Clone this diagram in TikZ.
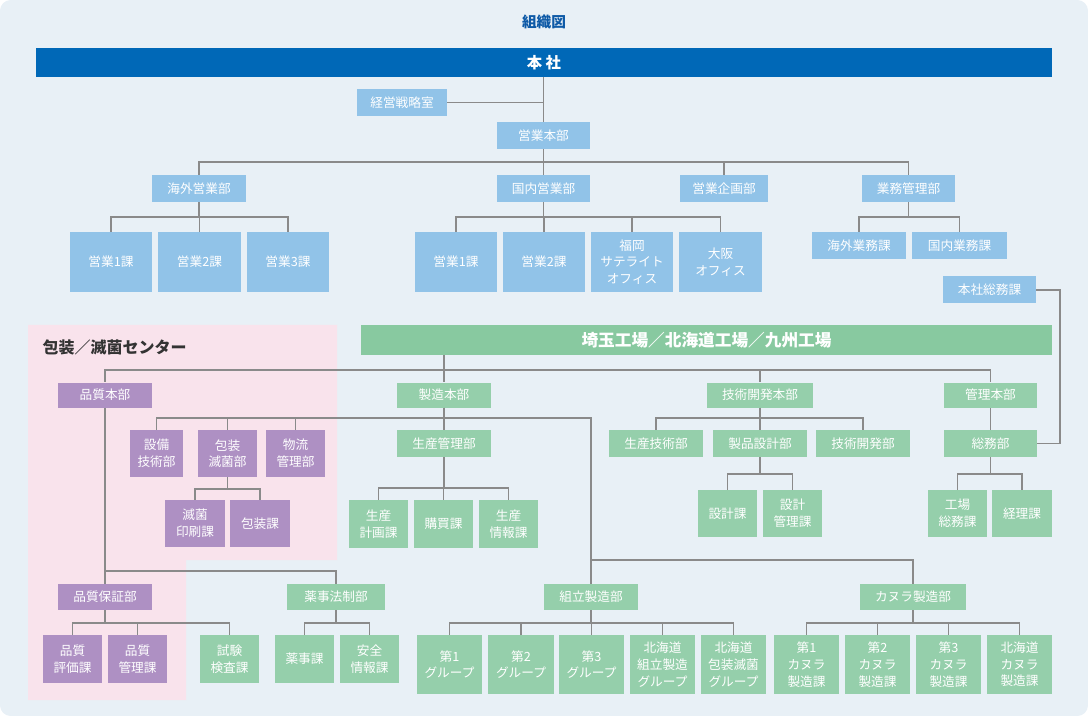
\documentclass[tikz,border=0pt]{standalone}
\usepackage{fontspec}
\setmainfont{Noto Sans CJK JP}
\definecolor{bg}{HTML}{E8F0F6}
\definecolor{pinkbg}{HTML}{F9E3EC}
\definecolor{bl}{HTML}{91C3E8}
\definecolor{gr}{HTML}{95CFAB}
\definecolor{gbar}{HTML}{88C9A0}
\definecolor{pu}{HTML}{AE90C3}
\definecolor{navy}{HTML}{0068B7}
\definecolor{ttl}{HTML}{0E5AA7}
\definecolor{ln}{HTML}{8A8A8A}
\newcommand\bx[7]{\node[#6, minimum width=#4*0.75pt, minimum height=#5*0.75pt] (#1) at (#2,#3) {#7};}
\newcommand\bus[3]{\foreach \c in {#3} {\draw[lk] (#1.south) -- (#1.south |- 0,#2) -| (\c.north);}}
\begin{document}
\begin{tikzpicture}[x=0.75pt,y=-0.75pt,
  box/.style={inner sep=0pt, align=center, text=white, font=\fontsize{9.5}{12.5}\selectfont},
  B/.style={box, fill=bl},
  G/.style={box, fill=gr},
  P/.style={box, fill=pu},
  lk/.style={draw=ln, line width=0.9pt}]
\useasboundingbox (0,0) rectangle (1088,716);
\fill[bg, rounded corners=8pt] (0,0) rectangle (1088,716);
\fill[pinkbg] (28,325) -- (337,325) -- (337,560) -- (186,560) -- (186,700) -- (28,700) -- cycle;
\node[text=ttl, font=\fontsize{11}{13}\selectfont\bfseries] (title) at (544,22) {組織図};
\bx{honsha}{544}{62.5}{1016}{29}{box, fill=navy, font=\fontsize{11.5}{13}\selectfont\bfseries}{本 社}
\bx{senryaku}{402}{102.5}{90}{27}{B}{経営戦略室}
\bx{eigyo}{543.5}{135.5}{93}{27}{B}{営業本部}
\bx{kaigai}{199}{188.5}{94}{27}{B}{海外営業部}
\bx{kokunai}{543.5}{188.5}{93}{27}{B}{国内営業部}
\bx{kikaku}{724}{188.5}{88}{27}{B}{営業企画部}
\bx{gyomu}{908.5}{188.5}{93}{27}{B}{業務管理部}
\bx{ka1}{111}{262}{82}{60}{B}{営業1課}
\bx{ka2}{199.5}{262}{83}{60}{B}{営業2課}
\bx{ka3}{288}{262}{82}{60}{B}{営業3課}
\bx{ko1}{456}{262}{82}{60}{B}{営業1課}
\bx{ko2}{544}{262}{82}{60}{B}{営業2課}
\bx{fuku}{632}{262}{82}{60}{B}{福岡\\サテライト\\オフィス}
\bx{osaka}{720.5}{262}{83}{60}{B}{大阪\\オフィス}
\bx{kgyomu}{859}{245.5}{94}{27}{B}{海外業務課}
\bx{ngyomu}{959.5}{245.5}{95}{27}{B}{国内業務課}
\bx{hsoumu}{989.5}{290}{93}{27}{B}{本社総務課}
\node[anchor=west, text=black!80, font=\fontsize{12}{14}\selectfont\bfseries] (center) at (38,347) {包装／滅菌センター};
\bx{factory}{706.5}{340}{691}{30}{box, fill=gbar, font=\fontsize{12.5}{14}\selectfont\bfseries}{埼玉工場／北海道工場／九州工場}
\bx{hinhon}{105}{395}{94}{25}{P}{品質本部}
\bx{seizo}{444}{395}{94}{25}{G}{製造本部}
\bx{gijutsu}{760}{395}{106}{25}{G}{技術開発本部}
\bx{kanri}{990.5}{395}{93}{25}{G}{管理本部}
\bx{setsubi}{156.5}{453.5}{53}{47}{P}{設備\\技術部}
\bx{hosomekkin}{227.5}{453.5}{59}{47}{P}{包装\\滅菌部}
\bx{butsuryu}{295.5}{453.5}{59}{47}{P}{物流\\管理部}
\bx{seikan}{444}{443.5}{94}{27}{G}{生産管理部}
\bx{seigi}{656}{443.5}{94}{27}{G}{生産技術部}
\bx{seihin}{760}{443.5}{94}{27}{G}{製品設計部}
\bx{gikai}{863}{443.5}{94}{27}{G}{技術開発部}
\bx{soumu}{990.5}{443.5}{93}{27}{G}{総務部}
\bx{insatsu}{195}{523.5}{60}{47}{P}{滅菌\\印刷課}
\bx{hosoka}{260}{523.5}{60}{47}{P}{包装課}
\bx{keikaku}{378.5}{524}{59}{48}{G}{生産\\計画課}
\bx{kobai}{443.5}{524}{59}{48}{G}{購買課}
\bx{joho}{508.5}{524}{59}{48}{G}{生産\\情報課}
\bx{sekkei}{727.5}{513.5}{59}{47}{G}{設計課}
\bx{skanri}{792.5}{513.5}{59}{47}{G}{設計\\管理課}
\bx{kjsoumu}{957.5}{513.5}{59}{47}{G}{工場\\総務課}
\bx{keiri}{1022}{513.5}{60}{47}{G}{経理課}
\bx{hosho}{105}{597}{94}{26}{P}{品質保証部}
\bx{yakuji}{336}{597}{98}{26}{G}{薬事法制部}
\bx{kumi}{591}{597}{94}{26}{G}{組立製造部}
\bx{kanura}{913}{597}{106}{26}{G}{カヌラ製造部}
\bx{hyoka}{72.5}{659}{59}{48}{P}{品質\\評価課}
\bx{hkanri}{137.5}{659}{59}{48}{P}{品質\\管理課}
\bx{shiken}{229.5}{659}{59}{48}{G}{試験\\検査課}
\bx{yakujika}{304.5}{659}{59}{48}{G}{薬事課}
\bx{anzen}{369.5}{659}{59}{48}{G}{安全\\情報課}
\bx{g1}{449.5}{664.5}{65}{59}{G}{第1\\グループ}
\bx{g2}{521}{664.5}{66}{59}{G}{第2\\グループ}
\bx{g3}{591.5}{664.5}{65}{59}{G}{第3\\グループ}
\bx{g4}{662.5}{664.5}{65}{59}{G}{北海道\\組立製造\\グループ}
\bx{g5}{733.5}{664.5}{65}{59}{G}{北海道\\包装滅菌\\グループ}
\bx{c1}{806.5}{664.5}{65}{59}{G}{第1\\カヌラ\\製造課}
\bx{c2}{877.5}{664.5}{65}{59}{G}{第2\\カヌラ\\製造課}
\bx{c3}{948.5}{664.5}{65}{59}{G}{第3\\カヌラ\\製造課}
\bx{c4}{1019.5}{664.5}{65}{59}{G}{北海道\\カヌラ\\製造課}
% connectors
\draw[lk] (eigyo.north |- honsha.south) -- (eigyo.north);
\draw[lk] (senryaku.east) -- (eigyo.north |- senryaku.east);
\bus{eigyo}{162}{kaigai,kokunai,kikaku,gyomu}
\bus{kaigai}{217}{ka1,ka2,ka3}
\bus{kokunai}{217}{ko1,ko2,fuku,osaka}
\bus{gyomu}{217}{kgyomu,ngyomu}
\coordinate (k1) at (1060,290);
\coordinate (k2) at (1060,443.5);
\draw[lk] (hsoumu.east) -- (k1) -- (k2) -- (soumu.east);
\foreach \c in {hinhon,seizo,gijutsu,kanri} {\draw[lk] (seizo.north |- factory.south) -- (seizo.north |- 0,370) -| (\c.north);}
\draw[lk] (hinhon.south) -- (hosho.north);
\draw[lk] (hinhon.south |- 0,571) -| (yakuji.north);
\bus{seizo}{418}{setsubi,hosomekkin,butsuryu,seikan,kumi}
\draw[lk] (kumi.north |- 0,560) -| (kanura.north);
\bus{hosomekkin}{489}{insatsu,hosoka}
\bus{seikan}{488}{keikaku,kobai,joho}
\bus{gijutsu}{418}{seigi,seihin,gikai}
\bus{seihin}{474}{sekkei,skanri}
\draw[lk] (kanri.south) -- (soumu.north);
\bus{soumu}{474}{kjsoumu,keiri}
\bus{hosho}{623}{hyoka,hkanri,shiken}
\bus{yakuji}{623}{yakujika,anzen}
\bus{kumi}{623}{g1,g2,g3,g4,g5}
\bus{kanura}{623}{c1,c2,c3,c4}
\end{tikzpicture}
\end{document}
